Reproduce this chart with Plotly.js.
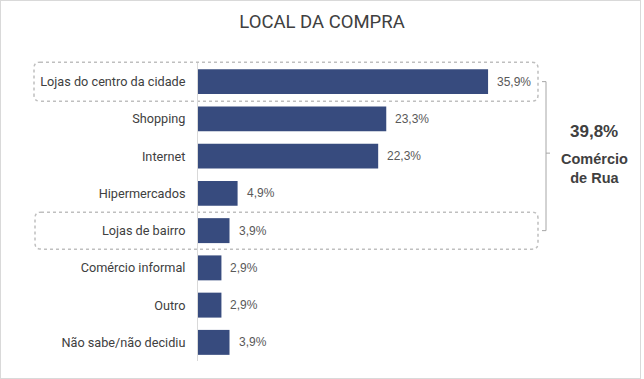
<!DOCTYPE html>
<html>
<head>
<meta charset="utf-8">
<script src="https://cdn.plot.ly/plotly-3.0.1.min.js"></script>
<style>
  html, body { margin: 0; padding: 0; background: #ffffff; }
  #wrap { position: relative; width: 644px; height: 379px; }
  #chart { position: absolute; left: 0; top: 0; width: 644px; height: 379px; }
  #frame { position: absolute; left: 0; top: 0; width: 639px; height: 377px;
           border: 1px solid #d9d9d9; pointer-events: none; }
</style>
</head>
<body>
<div id="wrap">
  <div id="chart"></div>
  <div id="frame"></div>
</div>
<script>
// ---- data ----
const categories = [
  "Lojas do centro da cidade",
  "Shopping",
  "Internet",
  "Hipermercados",
  "Lojas de bairro",
  "Comércio informal",
  "Outro",
  "Não sabe/não decidiu"
];
const values = [35.9, 23.3, 22.3, 4.9, 3.9, 2.9, 2.9, 3.9];
const valueLabels = ["35,9%", "23,3%", "22,3%", "4,9%", "3,9%", "2,9%", "2,9%", "3,9%"];
const summaryValue = "39,8%";
const summaryLabel = "Comércio<br>de Rua";
const highlighted = ["Lojas do centro da cidade", "Lojas de bairro"];

// ---- layout geometry ----
const W = 644, H = 379;
const M = { l: 198, r: 82, t: 63, b: 18 };
const PW = W - M.l - M.r, PH = H - M.t - M.b;
const px = x => (x - M.l) / PW;           // pixel -> paper x
const py = y => (H - M.b - y) / PH;       // pixel -> paper y

function roundRect(x0, y0, x1, y1, r) {
  const p = (x, y) => px(x) + "," + py(y);
  return "M " + p(x0 + r, y0) + " L " + p(x1 - r, y0) +
         " Q " + p(x1, y0) + " " + p(x1, y0 + r) +
         " L " + p(x1, y1 - r) +
         " Q " + p(x1, y1) + " " + p(x1 - r, y1) +
         " L " + p(x0 + r, y1) +
         " Q " + p(x0, y1) + " " + p(x0, y1 - r) +
         " L " + p(x0, y0 + r) +
         " Q " + p(x0, y0) + " " + p(x0 + r, y0) + " Z";
}

const rowH = PH / categories.length;
const rowCenter = i => M.t + rowH * (i + 0.5);
const i0 = categories.indexOf(highlighted[0]);
const i1 = categories.indexOf(highlighted[1]);

const dotted = { color: "#bfbfbf", width: 1.5, dash: "dot" };
const shapes = [
  { type: "path", xref: "paper", yref: "paper", layer: "below",
    path: roundRect(34, rowCenter(i0) - 19.5, 538, rowCenter(i0) + 19.5, 6), line: dotted },
  { type: "path", xref: "paper", yref: "paper", layer: "below",
    path: roundRect(35, rowCenter(i1) - 18.5, 538, rowCenter(i1) + 18.5, 6), line: dotted },
  { type: "path", xref: "paper", yref: "paper",
    path: "M " + px(542) + "," + py(rowCenter(i0)) + " L " + px(546) + "," + py(rowCenter(i0)) +
          " L " + px(546) + "," + py(rowCenter(i1)) + " L " + px(542) + "," + py(rowCenter(i1)),
    line: { color: "#a6a6a6", width: 1 } },
  { type: "path", xref: "paper", yref: "paper",
    path: "M " + px(546) + "," + py((rowCenter(i0) + rowCenter(i1)) / 2 - 3) + " L " + px(550) + "," + py((rowCenter(i0) + rowCenter(i1)) / 2 - 3),
    line: { color: "#a6a6a6", width: 1 } }
];

const annotations = categories.map((c, i) => ({
  x: values[i], y: c, xref: "x", yref: "y",
  text: valueLabels[i], showarrow: false, xanchor: "left", xshift: 7,
  font: { family: "Liberation Sans, Arial, sans-serif", size: 12, color: "#595959" }
}));
annotations.push({
  xref: "paper", yref: "paper", x: px(594), y: py(131), xanchor: "center", yanchor: "middle",
  text: "<b>" + summaryValue + "</b>", showarrow: false,
  font: { family: "Liberation Sans, Arial, sans-serif", size: 17, color: "#404040" }
});
annotations.push({
  xref: "paper", yref: "paper", x: px(594), y: py(168), xanchor: "center", yanchor: "middle",
  text: "<b>" + summaryLabel + "</b>", showarrow: false,
  font: { family: "Liberation Sans, Arial, sans-serif", size: 14.5, color: "#404040" }
});

const trace = {
  type: "bar", orientation: "h",
  x: values, y: categories,
  marker: { color: "#374b7e" },
  hoverinfo: "skip"
};

const layout = {
  width: W, height: H,
  margin: M,
  paper_bgcolor: "#ffffff", plot_bgcolor: "#ffffff",
  showlegend: false,
  bargap: 0.33,
  title: { text: "LOCAL DA COMPRA", x: 0.5, xref: "container", xanchor: "center",
           y: 1 - 22 / H, yref: "container", yanchor: "middle",
           font: { family: "Roboto, sans-serif", size: 18.5, color: "#404040" } },
  xaxis: { range: [0, PW / 8.08], showgrid: false, zeroline: false, showticklabels: false,
           showline: false, ticks: "", fixedrange: true },
  yaxis: { autorange: "reversed", type: "category", showgrid: false, zeroline: false,
           showline: true, linecolor: "#d9d9d9", linewidth: 1,
           ticks: "outside", ticklen: 9, tickcolor: "rgba(0,0,0,0)",
           tickfont: { family: "Roboto, sans-serif", size: 12.7, color: "#404040" } },
  shapes: shapes,
  annotations: annotations
};

Plotly.newPlot("chart", [trace], layout, { displayModeBar: false, staticPlot: true });
</script>
</body>
</html>
